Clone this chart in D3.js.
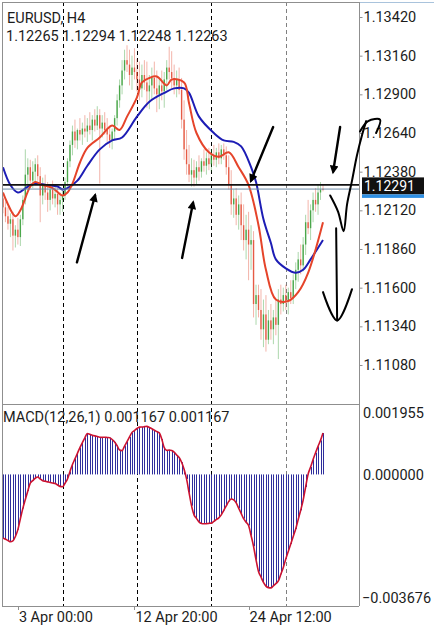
<!DOCTYPE html>
<html>
<head>
<meta charset="utf-8">
<script src="https://cdn.jsdelivr.net/npm/d3@7"></script>
<style>
  html, body { margin: 0; padding: 0; background: #fff; }
  svg { display: block; font-family: Roboto, "Noto Sans", sans-serif; }
</style>
</head>
<body>
<div id="chart"></div>
<script>
// EURUSD H4 candles + two MAs + MACD(12,26,1), MetaTrader-mobile look

const WIDTH = 434;
const HEIGHT = 625;

// ---- data ----
const symbolLabel = "EURUSD, H4";
const lastBar = [1.12265, 1.12294, 1.12248, 1.12263]; // O H L C of the live bar

// [open, high, low, close], one row per H4 bar
const candles = [
  [1.1220,1.1224,1.1210,1.1214],[1.1214,1.1218,1.1204,1.1208],[1.1208,1.1214,1.1199,1.1203],[1.1203,1.1210,1.1194,1.1206],
  [1.1206,1.1211,1.1185,1.1195],[1.1195,1.1202,1.1187,1.1199],[1.1199,1.1207,1.1189,1.1194],[1.1194,1.1209,1.1188,1.1206],
  [1.1206,1.1222,1.1202,1.1219],[1.1219,1.1253,1.1216,1.1236],[1.1236,1.1247,1.1226,1.1241],[1.1241,1.1246,1.1229,1.1232],
  [1.1232,1.1245,1.1227,1.1238],[1.1238,1.1247,1.1231,1.1243],[1.1243,1.1249,1.1232,1.1235],[1.1235,1.1241,1.1204,1.1222],
  [1.1222,1.1234,1.1216,1.1229],[1.1229,1.1236,1.1219,1.1224],[1.1224,1.1231,1.1211,1.1219],[1.1219,1.1229,1.1212,1.1226],
  [1.1226,1.1232,1.1216,1.1220],[1.1220,1.1228,1.1214,1.1223],[1.1223,1.1227,1.1209,1.1216],[1.1216,1.1224,1.1209,1.1219],
  [1.1219,1.1227,1.1211,1.1222],[1.1222,1.1234,1.1219,1.1231],[1.1231,1.1247,1.1228,1.1245],[1.1245,1.1259,1.1241,1.1256],
  [1.1256,1.1269,1.1249,1.1265],[1.1265,1.1273,1.1254,1.1259],[1.1259,1.1267,1.1253,1.1266],[1.1266,1.1274,1.1259,1.1263],
  [1.1263,1.1271,1.1256,1.1267],[1.1267,1.1276,1.1261,1.1265],[1.1265,1.1274,1.1258,1.1269],[1.1269,1.1278,1.1263,1.1266],
  [1.1266,1.1276,1.1259,1.1273],[1.1273,1.1280,1.1265,1.1269],[1.1269,1.1282,1.1266,1.1276],[1.1276,1.1280,1.1230,1.1267],
  [1.1267,1.1276,1.1261,1.1271],[1.1271,1.1278,1.1263,1.1266],[1.1266,1.1274,1.1258,1.1263],[1.1263,1.1269,1.1254,1.1259],
  [1.1259,1.1267,1.1253,1.1265],[1.1265,1.1276,1.1259,1.1274],[1.1274,1.1290,1.1269,1.1286],[1.1286,1.1300,1.1281,1.1296],
  [1.1296,1.1313,1.1290,1.1306],[1.1306,1.1320,1.1300,1.1313],[1.1313,1.1323,1.1305,1.1310],[1.1310,1.1320,1.1296,1.1303],
  [1.1303,1.1316,1.1293,1.1308],[1.1308,1.1321,1.1300,1.1305],[1.1305,1.1314,1.1292,1.1300],[1.1300,1.1312,1.1286,1.1294],
  [1.1294,1.1310,1.1288,1.1303],[1.1303,1.1313,1.1293,1.1298],[1.1298,1.1312,1.1281,1.1292],[1.1292,1.1303,1.1280,1.1296],
  [1.1296,1.1308,1.1286,1.1301],[1.1301,1.1312,1.1290,1.1294],[1.1294,1.1306,1.1278,1.1290],[1.1290,1.1301,1.1280,1.1296],
  [1.1296,1.1306,1.1286,1.1292],[1.1292,1.1305,1.1281,1.1300],[1.1300,1.1313,1.1293,1.1308],[1.1308,1.1322,1.1300,1.1305],
  [1.1305,1.1319,1.1294,1.1301],[1.1301,1.1310,1.1290,1.1296],[1.1296,1.1306,1.1288,1.1300],[1.1300,1.1308,1.1290,1.1293],
  [1.1293,1.1301,1.1267,1.1273],[1.1273,1.1286,1.1246,1.1253],[1.1253,1.1266,1.1236,1.1243],[1.1243,1.1256,1.1231,1.1236],
  [1.1236,1.1247,1.1228,1.1239],[1.1239,1.1246,1.1228,1.1234],[1.1234,1.1245,1.1229,1.1241],[1.1241,1.1249,1.1232,1.1238],
  [1.1238,1.1247,1.1234,1.1245],[1.1245,1.1253,1.1238,1.1242],[1.1242,1.1251,1.1236,1.1247],[1.1247,1.1254,1.1239,1.1243],
  [1.1243,1.1253,1.1238,1.1249],[1.1249,1.1256,1.1242,1.1246],[1.1246,1.1254,1.1241,1.1251],[1.1251,1.1257,1.1243,1.1247],
  [1.1247,1.1256,1.1243,1.1253],[1.1253,1.1257,1.1246,1.1249],[1.1249,1.1255,1.1236,1.1241],[1.1241,1.1249,1.1226,1.1229],
  [1.1229,1.1239,1.1209,1.1216],[1.1216,1.1226,1.1207,1.1220],[1.1220,1.1227,1.1202,1.1209],[1.1209,1.1222,1.1199,1.1216],
  [1.1216,1.1224,1.1192,1.1202],[1.1202,1.1216,1.1185,1.1192],[1.1192,1.1209,1.1179,1.1199],[1.1199,1.1211,1.1165,1.1189],
  [1.1189,1.1202,1.1172,1.1192],[1.1192,1.1198,1.1140,1.1149],[1.1149,1.1162,1.1135,1.1155],[1.1155,1.1162,1.1140,1.1145],
  [1.1145,1.1159,1.1125,1.1132],[1.1132,1.1152,1.1120,1.1142],[1.1142,1.1155,1.1117,1.1125],[1.1125,1.1145,1.1122,1.1138],
  [1.1138,1.1149,1.1125,1.1132],[1.1132,1.1145,1.1122,1.1140],[1.1140,1.1152,1.1128,1.1135],[1.1135,1.1159,1.1112,1.1152],
  [1.1152,1.1162,1.1142,1.1149],[1.1149,1.1160,1.1144,1.1155],[1.1155,1.1162,1.1145,1.1151],[1.1151,1.1160,1.1142,1.1157],
  [1.1157,1.1165,1.1149,1.1153],[1.1153,1.1169,1.1149,1.1165],[1.1165,1.1177,1.1159,1.1172],[1.1172,1.1184,1.1164,1.1179],
  [1.1179,1.1189,1.1169,1.1175],[1.1175,1.1194,1.1171,1.1189],[1.1189,1.1209,1.1182,1.1204],[1.1204,1.1219,1.1196,1.1200],
  [1.1200,1.1216,1.1192,1.1212],[1.1212,1.1224,1.1204,1.1219],[1.1219,1.1227,1.1211,1.1216],[1.1216,1.1229,1.1209,1.1224],
  [1.1224,1.1231,1.1219,1.1226],
  lastBar
];

// moving averages: [bar index, price]
const maFast = [
  [0,1.1224],[5,1.1208],[7,1.1212],[11,1.1228],[13,1.1231],[16,1.1229],[20,1.1227],[24,1.1222],[26,1.1224],
  [28,1.1230],[31,1.1244],[34,1.1254],[39,1.1261],[44,1.1269],[47,1.1266],[50,1.1275],[54,1.1288],[56,1.1298],
  [59,1.1301],[62,1.1302],[66,1.1296],[68,1.1300],[73,1.1298],[75,1.1284],[78,1.1264],[83,1.1251],[87,1.1248],
  [91,1.1251],[95,1.1241],[99,1.1229],[103,1.1202],[106,1.1172],[110,1.1152],[115,1.1151],[119,1.1157],
  [123,1.1170],[129,1.1204]
];
const maSlow = [
  [0,1.1241],[3,1.1229],[6,1.1224],[10,1.1228],[13,1.1230],[18,1.1229],[22,1.1228],[24,1.1226],[26,1.1227],
  [30,1.1232],[34,1.1242],[39,1.1253],[44,1.1259],[48,1.1261],[54,1.1275],[59,1.1285],[65,1.1291],[69,1.1294],
  [73,1.1294],[75,1.1291],[79,1.1275],[85,1.1264],[89,1.1259],[93,1.1258],[96,1.1255],[100,1.1241],[102,1.1231],
  [105,1.1206],[108,1.1190],[110,1.1179],[114,1.1173],[118,1.1170],[121,1.1172],[124,1.1179],[129,1.1192]
];

// MACD(12,26,1) per bar (signal == main with period 1)
const macd = [
  -0.001791,-0.001827,-0.001861,-0.001895,-0.001872,-0.001746,-0.001554,-0.001249,-0.000956,-0.000708,
  -0.000465,-0.000245,-0.000175,-0.000107,-0.000073,-0.000130,-0.000175,-0.000192,-0.000209,-0.000226,
  -0.000240,-0.000257,-0.000296,-0.000336,-0.000347,-0.000248,-0.000127,0.000085,0.000279,0.000437,
  0.000595,0.000756,0.000897,0.001032,0.001153,0.001131,0.001105,0.001086,0.001066,0.001046,
  0.001043,0.001049,0.001040,0.001035,0.000984,0.000914,0.000809,0.000685,0.000671,0.000798,
  0.000925,0.001055,0.001184,0.001235,0.001294,0.001331,0.001337,0.001345,0.001354,0.001323,
  0.001286,0.001249,0.001207,0.001170,0.000995,0.000753,0.000677,0.000690,0.000672,0.000629,
  0.000547,0.000477,0.000344,0.000147,-0.000127,-0.000513,-0.000880,-0.001139,-0.001238,-0.001337,
  -0.001382,-0.001390,-0.001385,-0.001378,-0.001371,-0.001320,-0.001272,-0.001221,-0.001139,-0.001012,
  -0.000885,-0.000759,-0.000691,-0.000716,-0.000801,-0.000948,-0.001097,-0.001246,-0.001348,-0.001438,
  -0.001720,-0.002022,-0.002403,-0.002735,-0.002888,-0.003040,-0.003144,-0.003187,-0.003195,-0.003136,
  -0.003074,-0.003000,-0.002809,-0.002620,-0.002380,-0.002169,-0.001957,-0.001746,-0.001534,-0.001272,
  -0.001010,-0.000722,-0.000353,0.000008,0.000209,0.000420,0.000612,0.000790,0.000959,0.001167
];

const priceTicks = [1.13420, 1.13160, 1.12900, 1.12640, 1.12380, 1.12120, 1.11860, 1.11600, 1.11340, 1.11080];
const macdTicks = [0.001955, 0.0, -0.003676];
const dateTicks = [[6, "3 Apr 00:00"], [53, "12 Apr 20:00"], [99, "24 Apr 12:00"]];
const separators = [24, 54, 84, 114]; // Monday 00:00 bars
const levelPrice = 1.12291; // horizontal line with price tag
const bidPrice = lastBar[3];

// hand-drawn marks, in [bar index, price]
const arrows = [
  [[29.8, 1.1177], [37.1, 1.1222]],
  [[72.2, 1.1180], [76.6, 1.1217]],
  [[108.9, 1.1268], [100.0, 1.1232]],
  [[135.9, 1.1268], [133.1, 1.1238]]
];
const strokes = [
  [[134.3, 1.1200], [134.7, 1.1138]],
  [[129.0, 1.1157], [134.7, 1.1138], [140.7, 1.1159]],
  [[131.9, 1.1222], [135.1, 1.1211], [137.3, 1.1198], [138.7, 1.1216], [140.7, 1.1232], [142.7, 1.1249], [144.8, 1.1263], [146.4, 1.1272]],
  [[143.9, 1.1265], [147.2, 1.1272], [152.0, 1.1273], [150.4, 1.1264]]
];

// ---- layout ----
const L = 2, R = 359;
const mainTop = 2, mainBottom = 404, macdBottom = 606;
const GREEN = "#2f9a2f", RED = "#e2432b";
const FRAME = "#8f8f8f";
const FONT = 14.5;

const x = d3.scaleLinear().domain([0, 129]).range([3, 323]);
const y = d3.scaleLinear().domain([1.11080, 1.13420]).range([365, 17]);
const ym = d3.scaleLinear().domain([-0.003676, 0.001955]).range([605, 405]);

const svg = d3.select("#chart").append("svg")
  .attr("width", WIDTH)
  .attr("height", HEIGHT);

svg.append("defs").append("marker")
  .attr("id", "head")
  .attr("viewBox", "0 0 10 10")
  .attr("refX", 7).attr("refY", 5)
  .attr("markerWidth", 4.2).attr("markerHeight", 3.6)
  .attr("orient", "auto")
  .append("path").attr("d", "M0,0 L10,5 L0,10 z").attr("fill", "#000");

// period separators (behind everything)
svg.append("g")
  .selectAll("line")
  .data(separators)
  .join("line")
  .attr("x1", d => Math.round(x(d)) + 0.5)
  .attr("x2", d => Math.round(x(d)) + 0.5)
  .attr("y1", mainTop).attr("y2", macdBottom)
  .attr("stroke", (d, i) => i === separators.length - 1 ? "#808080" : "#000")
  .attr("stroke-width", 1)
  .attr("stroke-dasharray", "4,3");

// ---- candles ----
const bars = candles.map((c, i) => ({ i, o: c[0], h: c[1], l: c[2], c: c[3] }));
const cg = svg.append("g");
cg.selectAll("line")
  .data(bars)
  .join("line")
  .attr("x1", d => x(d.i)).attr("x2", d => x(d.i))
  .attr("y1", d => y(d.h)).attr("y2", d => y(d.l))
  .attr("stroke", d => d.c >= d.o ? GREEN : RED)
  .attr("stroke-opacity", 0.4)
  .attr("stroke-width", 1);
cg.selectAll("rect")
  .data(bars)
  .join("rect")
  .attr("x", d => x(d.i) - 0.7)
  .attr("width", 1.4)
  .attr("y", d => y(Math.max(d.o, d.c)))
  .attr("height", d => Math.max(1, Math.abs(y(d.o) - y(d.c))))
  .attr("fill", d => d.c >= d.o ? GREEN : RED)
  .attr("fill-opacity", 0.8);

// ---- moving averages ----
const maLine = d3.line()
  .x(d => x(d[0]))
  .y(d => y(d[1]))
  .curve(d3.curveCatmullRom.alpha(0.5));

svg.append("path").datum(maSlow)
  .attr("d", maLine).attr("fill", "none")
  .attr("stroke", "#1d1db5").attr("stroke-width", 2);
svg.append("path").datum(maFast)
  .attr("d", maLine).attr("fill", "none")
  .attr("stroke", "#e5442a").attr("stroke-width", 2);

// level + bid lines
svg.append("line")
  .attr("x1", L).attr("x2", R)
  .attr("y1", y(bidPrice)).attr("y2", y(bidPrice))
  .attr("stroke", "#6d8aa6").attr("stroke-width", 1);
svg.append("line")
  .attr("x1", L).attr("x2", R)
  .attr("y1", y(levelPrice)).attr("y2", y(levelPrice))
  .attr("stroke", "#111").attr("stroke-width", 1.6);

// ---- MACD ----
svg.append("g")
  .selectAll("line")
  .data(macd)
  .join("line")
  .attr("x1", (d, i) => Math.round(x(i)) + 0.5)
  .attr("x2", (d, i) => Math.round(x(i)) + 0.5)
  .attr("y1", ym(0))
  .attr("y2", d => ym(d))
  .attr("stroke", "#2e2e9c")
  .attr("stroke-width", 1);

svg.append("path").datum(macd)
  .attr("d", d3.line().x((d, i) => x(i)).y(d => ym(d)).curve(d3.curveMonotoneX))
  .attr("fill", "none")
  .attr("stroke", "#cc1230")
  .attr("stroke-width", 1.6);

// ---- frame ----
const frame = svg.append("g").attr("stroke", FRAME).attr("stroke-width", 1);
frame.append("line").attr("x1", L).attr("x2", R).attr("y1", mainTop + 0.5).attr("y2", mainTop + 0.5);
frame.append("line").attr("x1", R).attr("x2", WIDTH).attr("y1", mainTop + 0.5).attr("y2", mainTop + 0.5).attr("stroke", "#a9c3dc");
frame.append("line").attr("x1", L).attr("x2", R).attr("y1", mainBottom + 0.5).attr("y2", mainBottom + 0.5);
frame.append("line").attr("x1", L).attr("x2", R).attr("y1", macdBottom + 0.5).attr("y2", macdBottom + 0.5);
frame.append("line").attr("x1", L + 0.5).attr("x2", L + 0.5).attr("y1", mainTop).attr("y2", macdBottom);
frame.append("line").attr("x1", R + 0.5).attr("x2", R + 0.5).attr("y1", mainTop).attr("y2", macdBottom);

// ---- price axis ----
svg.append("g")
  .attr("transform", `translate(${R + 0.5},0)`)
  .call(d3.axisRight(y).tickValues(priceTicks).tickFormat(d3.format(".5f")).tickSize(3).tickPadding(1))
  .call(g => g.select(".domain").remove())
  .call(g => g.selectAll("line").attr("stroke", FRAME))
  .call(g => g.selectAll("text").attr("fill", "#1c1c1c"))
  .attr("font-family", "Roboto, sans-serif")
  .attr("font-size", FONT);

// price tag of the level line
const tagY = y(levelPrice);
svg.append("rect").attr("x", R + 3).attr("y", tagY - 7.5).attr("width", 62).attr("height", 17).attr("fill", "#111");
svg.append("rect").attr("x", R + 3).attr("y", tagY + 9.5).attr("width", 62).attr("height", 3.5).attr("fill", "#2e8fe3");
svg.append("text")
  .attr("x", R + 5).attr("y", tagY + 1.5).attr("dy", "0.36em")
  .attr("fill", "#fff").attr("font-size", 14)
  .text(d3.format(".5f")(levelPrice));

// ---- MACD axis ----
svg.append("g")
  .selectAll("text")
  .data(macdTicks)
  .join("text")
  .attr("x", d => d < 0 ? R + 3 : R + 4)
  .attr("y", d => Math.max(413, Math.min(598, ym(d))))
  .attr("dy", "0.36em")
  .attr("font-size", FONT)
  .attr("fill", "#1c1c1c")
  .text(d => d3.format(".6f")(d));

// ---- date axis ----
const dg = svg.append("g");
dg.selectAll("line")
  .data(dateTicks)
  .join("line")
  .attr("x1", d => Math.round(x(d[0])) + 0.5).attr("x2", d => Math.round(x(d[0])) + 0.5)
  .attr("y1", macdBottom).attr("y2", macdBottom + 4)
  .attr("stroke", FRAME);
dg.selectAll("text")
  .data(dateTicks)
  .join("text")
  .attr("x", d => x(d[0]) + 1)
  .attr("y", 622)
  .attr("font-size", FONT)
  .attr("fill", "#1c1c1c")
  .text(d => d[1]);

// ---- titles ----
svg.append("text").attr("x", 7).attr("y", 23).attr("font-size", FONT).attr("fill", "#1c1c1c").text(symbolLabel);
svg.append("text").attr("x", 6).attr("y", 41).attr("font-size", FONT).attr("fill", "#1c1c1c")
  .text(lastBar.map(d3.format(".5f")).join(" "));
svg.append("text").attr("x", 3).attr("y", 422).attr("font-size", FONT).attr("fill", "#1c1c1c")
  .text(`MACD(12,26,1) ${d3.format(".6f")(macd[macd.length - 1])} ${d3.format(".6f")(macd[macd.length - 1])}`);

// ---- hand drawn marks ----
const pen = d3.line().x(d => x(d[0])).y(d => y(d[1])).curve(d3.curveCatmullRom.alpha(0.5));
svg.append("g")
  .selectAll("path")
  .data(arrows)
  .join("path")
  .attr("d", pen)
  .attr("fill", "none")
  .attr("stroke", "#000")
  .attr("stroke-width", 2.4)
  .attr("stroke-linecap", "round")
  .attr("marker-end", "url(#head)");
svg.append("g")
  .selectAll("path")
  .data(strokes)
  .join("path")
  .attr("d", pen)
  .attr("fill", "none")
  .attr("stroke", "#000")
  .attr("stroke-width", 2)
  .attr("stroke-linecap", "round")
  .attr("stroke-linejoin", "round");
</script>
</body>
</html>
